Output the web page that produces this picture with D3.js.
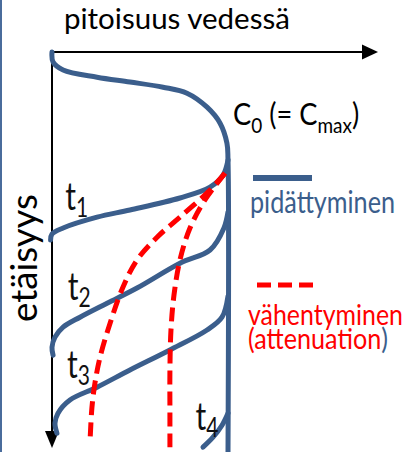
<!DOCTYPE html>
<html>
<head>
<meta charset="utf-8">
<script src="https://cdn.jsdelivr.net/npm/d3@7/dist/d3.min.js"></script>
<style>
  body { margin: 0; background: #fff; }
  svg { display: block; }
  text { font-family: Lato, "Open Sans", sans-serif; font-weight: 400; }
</style>
</head>
<body>
<svg></svg>
<script>
const width = 408, height = 452;
const blue = "#3b5e8c", red = "#ff0000";

// concentration (% of C0) against distance (% of axis length)
const c0Profile = [[0,0],[0.6,2.5],[6.3,4.5],[25.6,6.3],[44.3,7.5],[63.1,8.8],[76.7,10.3],[88.1,13.8],[95.5,17.8],[99.4,22.8],[100,27],[100,100]];
const t1Profile = [[-0.8,47],[0,45.5],[6.3,44],[25.6,41.3],[44.3,39.5],[72.7,36.5],[89.8,33.8],[97.2,30.8],[100,27]];
const t2Profile = [[100,40],[97.7,44],[89.8,49.5],[72.7,52.8],[48.3,59],[31.3,62.8],[15.9,66.3],[6.3,68.8],[1.7,71.3],[0,73.8],[0.6,75.8]];
const t3Profile = [[100,61],[96.6,66.3],[88.1,69.5],[67,74.5],[44.3,79.5],[25.6,83.8],[10.2,87],[3.4,90.3],[1.7,92.8],[2.8,95.3]];
const t4Profile = [[85.8,98.8],[91.5,96.3],[96.6,93.3],[100,90.3]];

// attenuation fronts
const attenA = [[98.3,30.3],[89.8,34.5],[72.7,41.3],[59.7,46.3],[48.3,52],[40.3,58.8],[33,67.8],[27.3,76.3],[24.4,82.8],[22.7,88.8],[21.6,97.5]];
const attenB = [[98.3,30.3],[86.9,37],[78.4,44],[72.7,52],[69.3,60.8],[67.6,69.5],[67,79.5],[67,89.5],[67,98.8]];

const timeLabels = [
  {t: "t", sub: "1", c: 7.5, d: 39.5},
  {t: "t", sub: "2", c: 9, d: 62},
  {t: "t", sub: "3", c: 8.5, d: 81.5},
  {t: "t", sub: "4", c: 81.5, d: 94.5}
];

const svg = d3.select("svg")
    .attr("width", width)
    .attr("height", height);

const x = d3.scaleLinear().domain([0, 100]).range([52, 228]);
const y = d3.scaleLinear().domain([0, 100]).range([52, 452]);

const line = d3.line()
    .x(d => x(d[0]))
    .y(d => y(d[1]))
    .curve(d3.curveCatmullRom.alpha(0.5));

// frame edge on the left
svg.append("line")
    .attr("x1", 1).attr("x2", 1)
    .attr("y1", 0).attr("y2", height)
    .attr("stroke", "#4a6c9c").attr("stroke-width", 2);

// axes
svg.append("line")
    .attr("x1", x(0)).attr("y1", y(0))
    .attr("x2", 364).attr("y2", y(0))
    .attr("stroke", "#000").attr("stroke-width", 2);
svg.append("path")
    .attr("d", `M378,${y(0)}L362,${y(0) - 7.5}L362,${y(0) + 7.5}Z`)
    .attr("fill", "#000");
svg.append("line")
    .attr("x1", x(0)).attr("y1", y(0))
    .attr("x2", x(0)).attr("y2", 434)
    .attr("stroke", "#000").attr("stroke-width", 2);
svg.append("path")
    .attr("d", `M${x(0)},448L${x(0) - 7},431L${x(0) + 7},431Z`)
    .attr("fill", "#000");

// blue profiles
svg.append("g")
    .selectAll("path")
    .data([c0Profile, t1Profile, t2Profile, t3Profile, t4Profile])
    .enter().append("path")
    .attr("d", line)
    .attr("fill", "none")
    .attr("stroke", blue)
    .attr("stroke-width", 5)
    .attr("stroke-linecap", "round");

// red dashed attenuation
svg.append("g")
    .selectAll("path")
    .data([attenA, attenB])
    .enter().append("path")
    .attr("d", line)
    .attr("fill", "none")
    .attr("stroke", red)
    .attr("stroke-width", 5)
    .attr("stroke-dasharray", "14,7");

// text is a bit taller than the font, so stretch it vertically
function label(px, py, size, sy, extra) {
    return svg.append("text")
        .attr("transform", `translate(${px},${py})${extra || ""} scale(1,${sy})`)
        .attr("font-size", size);
}

function fit(sel, w) {
    const len = sel.node().getComputedTextLength();
    const fs = parseFloat(sel.attr("font-size"));
    sel.attr("font-size", fs * w / len);
    return sel;
}

// titles
fit(label(64, 29, 24, 1.0).text("pitoisuus vedessä"), 226);
fit(label(37, 322, 24, 1.0, " rotate(-90)").text("etäisyys"), 128);

// C0 label
const c0 = label(233, 125, 28, 1.12);
c0.append("tspan").text("C");
c0.append("tspan").attr("font-size", 19).attr("dy", 7).text("0");
c0.append("tspan").attr("dy", -7).text(" (= C");
c0.append("tspan").attr("font-size", 19).attr("dy", 7).text("max");
c0.append("tspan").attr("dy", -7).text(")");
fit(c0, 125);

// time labels
timeLabels.forEach(l => {
    const t = label(x(l.c), y(l.d), 30, 1.3).attr("fill", "#111");
    t.append("tspan").text(l.t);
    t.append("tspan").attr("font-size", 21).attr("dy", 5).text(l.sub);
});

// legend
svg.append("line")
    .attr("x1", 253).attr("x2", 312)
    .attr("y1", 178).attr("y2", 178)
    .attr("stroke", blue).attr("stroke-width", 6);
fit(label(250, 213, 24, 1.25).attr("fill", blue).text("pidättyminen"), 145);

svg.append("line")
    .attr("x1", 257).attr("x2", 314)
    .attr("y1", 285).attr("y2", 285)
    .attr("stroke", red).attr("stroke-width", 5)
    .attr("stroke-dasharray", "14,7");

// two-line red label in one text element
const att = label(248, 325, 24, 1.15).attr("fill", red);
const l1 = att.append("tspan").attr("x", 0).attr("font-size", 24).text("vähentyminen");
const l2 = att.append("tspan").attr("x", 0).attr("dy", 21).attr("font-size", 24);
l2.append("tspan").text("(attenuation");
l2.append("tspan").attr("fill", blue).text(")");
l1.attr("font-size", 24 * 155 / l1.node().getComputedTextLength());
l2.attr("font-size", 24 * 140 / l2.node().getComputedTextLength());
</script>
</body>
</html>
